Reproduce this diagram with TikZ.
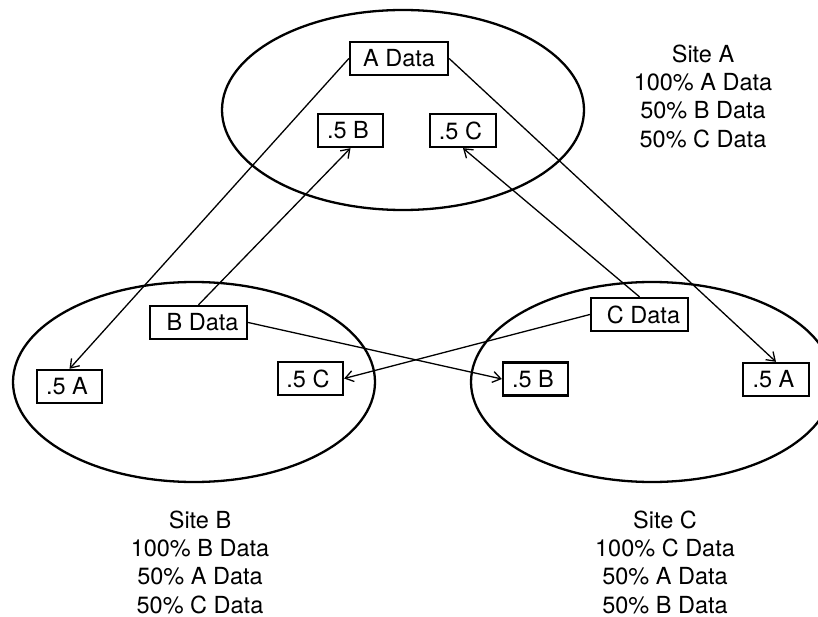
\documentclass[tikz,border=0pt]{standalone}
\usepackage{fontspec}
\setmainfont{TeX Gyre Heros}
\usetikzlibrary{arrows.meta}
\begin{document}
\begin{tikzpicture}[x=1pt,y=-1pt,
  site/.style={line width=2.3pt},
  databox/.style={draw,line width=2.3pt,inner sep=0pt,minimum height=33pt,
    font=\fontsize{23.5pt}{28.3pt}\selectfont},
  padleft/.style={execute at begin node={\hspace*{#1}}},
  padright/.style={execute at end node={\hspace*{#1}}},
  conn/.style={line width=1.3pt,-{Straight Barb[length=8pt,width=11pt]}},
  sitetext/.style={align=center,anchor=north,inner sep=0pt,
    font=\fontsize{23.5pt}{28.3pt}\selectfont}]
\useasboundingbox (0,0) rectangle (818,617);
\begin{scope}
\clip (0,0) rectangle (818,617);
\draw[site] (403,110) ellipse [x radius=181, y radius=100];
\draw[site] (194,382) ellipse [x radius=181, y radius=100];
\draw[site] (652,382) ellipse [x radius=181, y radius=100];
\end{scope}
% Site A
\node[databox,minimum width=98pt] (adata) at (399,58.5) {A Data};
\node[databox,minimum width=65pt,padright=5pt] (ab) at (350.5,130.5) {.5 B};
\node[databox,minimum width=66pt,padright=5pt] (ac) at (463,130.5) {.5 C};
% Site B
\node[databox,minimum width=97pt,padleft=8pt] (bdata) at (198.5,322.5) {B Data};
\node[databox,minimum width=65pt,padright=5pt] (ba) at (69.5,386.5) {.5 A};
\node[databox,minimum width=65pt,padright=5pt] (bc) at (310.5,378.5) {.5 C};
% Site C
\node[databox,minimum width=97pt,padleft=8pt] (cdata) at (639.5,314.5) {C Data};
\node[databox,minimum width=65pt,padright=5pt] (cb) at (535.5,379) {.5 B};
\node[databox,minimum width=66pt,padright=5pt] (ca) at (776,379.5) {.5 A};
% connectors
\draw[conn] (adata.west) -- (ba.north);
\draw[conn] (adata.east) -- (ca.north);
\draw[conn] (bdata.north) -- (ab.south);
\draw[conn] (bdata.east) -- (cb.west);
\draw[conn] (cdata.north) -- (ac.south);
\draw[conn] (cdata.west) -- (bc.east);
% texts
\node[sitetext] (sa) at (703,44.5) {Site A\\100\% A Data\\50\% B Data\\50\% C Data};
\node[sitetext] (sb) at (200,510.5) {Site B\\100\% B Data\\50\% A Data\\50\% C Data};
\node[sitetext] (sc) at (665,510.5) {Site C\\100\% C Data\\50\% A Data\\50\% B Data};
\end{tikzpicture}
\end{document}
